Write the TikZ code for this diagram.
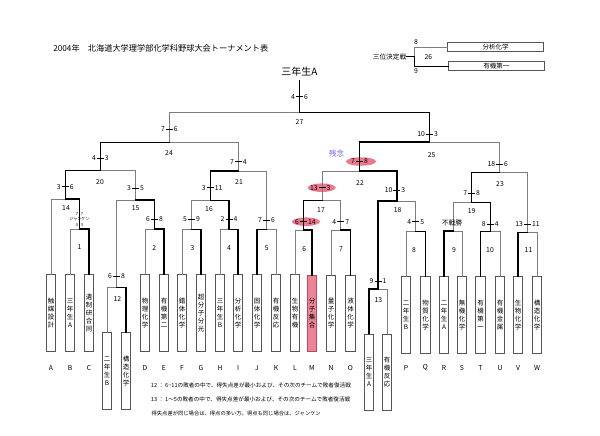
\documentclass[tikz,border=0pt]{standalone}
\usepackage{fontspec}
\newfontfamily\jp{Noto Sans CJK JP}
\usetikzlibrary{shapes.geometric}
\definecolor{losec}{RGB}{125,125,125}
\definecolor{boxc}{RGB}{85,85,85}
\definecolor{pinkc}{RGB}{234,122,142}
\definecolor{pinkbox}{RGB}{236,132,150}
\definecolor{pinkline}{RGB}{190,70,95}
\definecolor{purp}{RGB}{120,100,230}
\newcommand\mscore[5]{%
 \node[sc,anchor=east] (#1l) at (#2-4.3,#3) {#4};
 \node[sc,anchor=west] (#1r) at (#2+4.3,#3) {#5};
 \draw[tick] ([xshift=0.8pt]#1l.east) -- ([xshift=-0.8pt]#1r.west);}
\begin{document}
\begin{tikzpicture}[x=1pt,y=-1pt,
 tbox/.style={draw=boxc, line width=0.7pt, fill=white, minimum width=9.5pt, minimum height=76.5pt, inner sep=0pt, align=center, font=\jp\fontsize{6.5}{8}\selectfont},
 hbox/.style={draw=boxc, line width=0.7pt, fill=white, minimum width=95.6pt, minimum height=9pt, inner sep=0pt, font=\jp\fontsize{6.5}{7}\selectfont},
 lose/.style={draw=losec, line width=0.8pt, line cap=rect},
 win/.style={draw=black, line width=1.5pt, line cap=rect},
 sc/.style={inner sep=0pt, font=\jp\fontsize{6.8}{7}\selectfont},
 num/.style={inner sep=0pt, font=\jp\fontsize{6.8}{7}\selectfont},
 tiny/.style={inner sep=0pt, font=\jp\fontsize{4}{4.5}\selectfont},
 note/.style={inner sep=0pt, anchor=west, font=\jp\fontsize{5.6}{6}\selectfont},
 tick/.style={draw=black, line width=0.5pt},
 pinkell/.style={ellipse, fill=pinkc, draw=none, minimum height=8.5pt, inner sep=0pt},
]
\fill[white] (0,0) rectangle (600,436);
\useasboundingbox (0,0) rectangle (600,436);

% titles
\node[inner sep=0pt, font=\jp\fontsize{8.2}{9}\selectfont] (title) at (160.8,48.3) {2004年　北海道大学理学部化学科野球大会トーナメント表};
\node[inner sep=0pt, font=\jp\fontsize{10}{11}\selectfont] (champt) at (299.5,71.7) {三年生A};
\coordinate (champ) at (299.5,80.7);

% pink ellipses
\node[pinkell, minimum width=30pt] (e22) at (361,161.5) {};
\node[pinkell, minimum width=28pt] (e17) at (321.7,187.7) {};
\node[pinkell, minimum width=28pt] (e6) at (306,221.7) {};
\node[inner sep=0pt, text=purp, font=\jp\fontsize{7.5}{8}\selectfont] (zannen) at (336.7,153.3) {残念};

% team boxes
\node[tbox] (A) at (51,312.75) {触\\媒\\設\\計};
\node[tbox] (B) at (70,312.75) {三\\年\\生\\A};
\node[tbox] (C) at (89,312.75) {遺\\制\\研\\合\\同};
\node[tbox] (D) at (145,312.75) {物\\理\\化\\学};
\node[tbox] (E) at (164,312.75) {有\\機\\第\\二};
\node[tbox] (F) at (182,312.75) {錯\\体\\化\\学};
\node[tbox] (G) at (201,312.75) {超\\分\\子\\分\\光};
\node[tbox] (H) at (220,312.75) {三\\年\\生\\B};
\node[tbox] (I) at (238,312.75) {分\\析\\化\\学};
\node[tbox] (J) at (257,312.75) {固\\体\\化\\学};
\node[tbox] (K) at (276,312.75) {有\\機\\反\\応};
\node[tbox] (L) at (295,312.75) {生\\物\\有\\機};
\node[tbox, fill=pinkbox, draw=pinkline] (M) at (312,313.5) {分\\子\\集\\合};
\node[tbox] (N) at (331,313.5) {量\\子\\化\\学};
\node[tbox] (O) at (350.5,313.5) {液\\体\\化\\学};
\node[tbox] (P) at (406,315) {二\\年\\生\\B};
\node[tbox] (Q) at (425.5,315) {物\\質\\化\\学};
\node[tbox] (R) at (444,315) {二\\年\\生\\A};
\node[tbox] (S) at (462,315) {無\\機\\化\\学};
\node[tbox] (T) at (480.5,315) {有\\機\\第\\一};
\node[tbox] (U) at (500,315) {有\\機\\金\\属};
\node[tbox] (V) at (518,315) {生\\物\\化\\学};
\node[tbox] (W) at (537,315) {構\\造\\化\\学};
\node[tbox] (Sa) at (107,370.9) {二\\年\\生\\B};
\node[tbox] (Sb) at (126,370.9) {構\\造\\化\\学};
\node[tbox] (Tb) at (369,372.2) {三\\年\\生\\A};
\node[tbox] (Tc) at (387,372.2) {有\\機\\反\\応};

% letters
\foreach \n/\x in {A/51,B/70,C/89,D/145,E/164,F/182,G/201,H/220,I/238,J/257,K/276,L/295,M/312,N/331,O/350.5,P/406,Q/425.5,R/444,S/462,T/480.5,U/500,V/518,W/537}
  \node[num] (lab\n) at (\x,368) {\n};

% match points
\coordinate (m1) at (79.5,229);
\coordinate (m14) at (65.25,199);
\coordinate (m12) at (116.5,287.3);
\coordinate (m2) at (154.5,229);
\coordinate (m15) at (135.5,200);
\coordinate (m20) at (100.4,170.7);
\coordinate (m3) at (191.5,229.3);
\coordinate (m4) at (229,229.3);
\coordinate (m16) at (210.25,200.7);
\coordinate (m5) at (266.5,229.3);
\coordinate (m21) at (238.4,171);
\coordinate (m24) at (169.4,142.3);
\coordinate (m6) at (303.5,230);
\coordinate (m7) at (340.75,230);
\coordinate (m17) at (322.1,200.7);
\coordinate (m13) at (378,289);
\coordinate (m8) at (415.75,231.7);
\coordinate (m18) at (396.9,201);
\coordinate (m22) at (359.5,171);
\coordinate (m9) at (453,231);
\coordinate (m10) at (490.25,231.7);
\coordinate (m19) at (471.6,202.3);
\coordinate (m11) at (527.5,232.3);
\coordinate (m23) at (499.6,172.7);
\coordinate (m25) at (429.5,142);
\coordinate (m27) at (299.5,112.3);

% third place
\node[hbox] (b3a) at (495.5,47.2) {分析化学};
\node[hbox] (b3b) at (496.3,66.3) {有機第一};
\coordinate (t26) at (414.3,56.7);
\node[inner sep=0pt, anchor=east, font=\jp\fontsize{6.7}{7}\selectfont] (l3) at (406.5,56.7) {三位決定戦};

% loser connectors
\foreach \a/\b in {B/m1,A/m14,Sa/m12,D/m2,m12/m15,m15/m20,F/m3,H/m4,m3/m16,K/m5,m5/m21,m21/m24,L/m6,N/m7,m7/m17,Tc/m13,P/m8,m8/m18,m17/m22,S/m9,U/m10,m9/m19,W/m11,m11/m23,m23/m25,m24/m27}
  \draw[lose] (\a) |- (\b);
\draw[lose] (b3a.west) -| (t26);
% winner connectors
\foreach \a/\b in {C/m1,m1/m14,Sb/m12,E/m2,m2/m15,m14/m20,G/m3,I/m4,m4/m16,J/m5,m16/m21,m20/m24,M/m6,O/m7,m6/m17,Tb/m13,Q/m8,m13/m18,m18/m22,R/m9,T/m10,m10/m19,V/m11,m19/m23,m22/m25,m25/m27}
  \draw[win] (\a) |- (\b);
\draw[win] (b3b.west) -| (t26);
\draw[win] (m27) -- (champ);
\draw[win] (t26) -- (l3.east);

% scores
\mscore{s27}{299.5}{96.7}{4}{6}
\mscore{s24}{169.4}{129.3}{7}{6}
\mscore{s25}{429.5}{134}{10}{3}
\mscore{s20}{100.4}{158.3}{4}{3}
\mscore{s21}{238.4}{161.7}{7}{4}
\mscore{s22}{359.5}{161.5}{7}{8}
\mscore{s23}{499.6}{164.3}{18}{6}
\mscore{s14}{65.25}{186.7}{3}{6}
\mscore{s15}{135.5}{188.3}{3}{5}
\mscore{s16}{210.25}{187.7}{3}{11}
\mscore{s17}{322.1}{187.7}{13}{3}
\mscore{s18}{396.9}{190}{10}{3}
\mscore{s19}{471.6}{193.3}{7}{8}
\mscore{s2}{154.5}{219}{6}{8}
\mscore{s3}{191.5}{219}{5}{9}
\mscore{s4}{229}{219}{2}{4}
\mscore{s5}{266.5}{220}{7}{6}
\mscore{s6}{303.5}{221.7}{6}{14}
\mscore{s7}{340.75}{221.7}{4}{7}
\mscore{s8}{415.75}{221.7}{4}{5}
\mscore{s10}{490.25}{224}{8}{4}
\mscore{s11}{527.5}{224.3}{13}{11}
\mscore{s12}{116.5}{276}{6}{8}
\mscore{s13}{378}{281}{9}{1}
\node[tiny] (jk1) at (79.5,214.3) {7\,-\,7};
\node[tiny] (jk2) at (79.5,219.5) {ジャンケン};
\node[tiny] (jk3) at (79.5,225) {0\,-\,3};
\node[sc] (s9) at (452,223.3) {不戦勝};

% match numbers
\foreach \t/\x/\y in {27/299.5/121.7,24/169/153.3,25/431.7/155,20/100/181.7,21/239/182.3,22/360/183.3,23/500/184.3,14/66/208.3,15/135.7/208.3,16/209/209,17/321/210,18/397.7/210,19/471.7/210.7,1/79.5/247.3,2/154.3/248.3,3/192.5/248.3,4/229/248.3,5/266.7/248.3,6/304.3/249,7/341/249,8/414/250,9/454/250,10/490/250,11/528.5/250,12/117.3/299,13/378.3/300}
  \node[num] (n\t) at (\x,\y) {\t};

% third place labels
\node[num] (th8) at (416,41.7) {8};
\node[num] (th9) at (416,71) {9};
\node[num] (th26) at (428.3,56.7) {26};

% notes
\node[note] (note1) at (150.7,385) {12 ： 6−11の敗者の中で、得失点差が最小および、その次のチームで敗者復活戦};
\node[note] (note2) at (150.7,399) {13 ： 1〜5の敗者の中で、得失点差が最小および、その次のチームで敗者復活戦};
\node[note, font=\jp\fontsize{5.3}{6}\selectfont] (note3) at (151.4,413) {得失点差が同じ場合は、得点の多い方。得点も同じ場合は、ジャンケン};
\end{tikzpicture}
\end{document}
